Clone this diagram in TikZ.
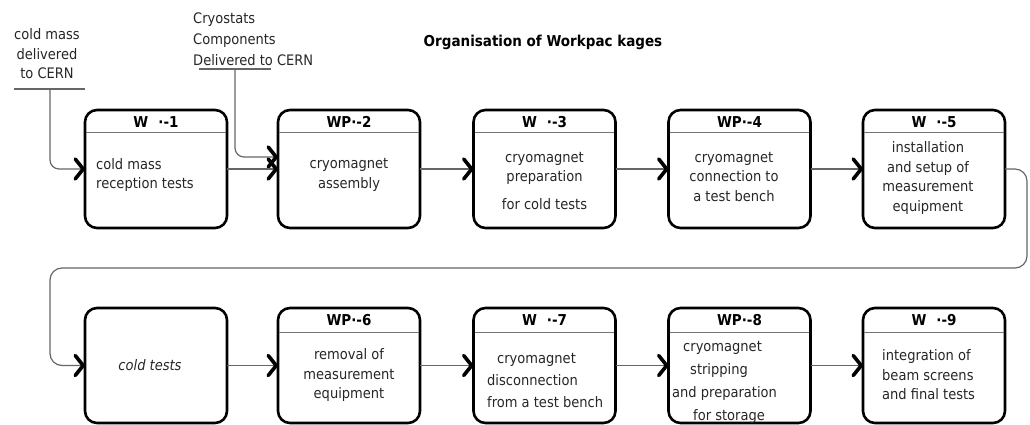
\documentclass[tikz,border=0pt]{standalone}
\usepackage{fontspec}
\setmainfont{DejaVu Sans}[FakeStretch=0.9]
\usetikzlibrary{arrows.meta}
\tikzset{
  wpbox/.style={draw=black, line width=2.6pt, rounded corners=12pt, minimum width=142pt, minimum height=118pt, inner sep=0pt, outer sep=0pt},
  wpboxlow/.style={wpbox, minimum height=115pt},
  hdrline/.style={draw=black!55, line width=1pt},
  conn/.style={draw=black!60, line width=1.2pt, -{Straight Barb[length=8pt,width=20pt,line width=3.6pt,color=black,round]}},
  plainline/.style={draw=black!60, line width=1.2pt},
  txt/.style={font=\fontsize{14.5pt}{19.5pt}\selectfont, text=black!85, inner sep=0pt},
  head/.style={font=\bfseries\fontsize{15pt}{18pt}\selectfont, text=black, inner sep=0pt},
  ttl/.style={font=\bfseries\fontsize{15pt}{18pt}\selectfont, text=black, inner sep=0pt},
}
\begin{document}
\begin{tikzpicture}[x=1pt,y=-1pt]
\useasboundingbox (0,0) rectangle (1030,425);
% title
\node[ttl] (title) at (543,42) {Organisation of Workpac kages};
% top row boxes
\node[wpbox] (b1) at (156,169) {};
\node[wpbox] (b2) at (349,169) {};
\node[wpbox] (b3) at (544.5,169) {};
\node[wpbox] (b4) at (739.5,169) {};
\node[wpbox] (b5) at (934,169) {};
% bottom row boxes
\node[wpboxlow] (bc) at (156,365.5) {};
\node[wpboxlow] (b6) at (349,365.5) {};
\node[wpboxlow] (b7) at (544.5,365.5) {};
\node[wpboxlow] (b8) at (739.5,365.5) {};
\node[wpboxlow] (b9) at (934,365.5) {};
% header lines
\foreach \b in {b1,b2,b3,b4,b5}{
  \draw[hdrline] ([xshift=1.3pt,yshift=-23pt]\b.north west) -- ([xshift=-1.3pt,yshift=-23pt]\b.north east);
}
\foreach \b in {b6,b7,b8,b9}{
  \draw[hdrline] ([xshift=1.3pt,yshift=-24pt]\b.north west) -- ([xshift=-1.3pt,yshift=-24pt]\b.north east);
}
% headers
\node[head] (h1) at (156,122) {W\hspace{10pt}·-1};
\node[head] (h2) at (349,122) {WP·-2};
\node[head] (h3) at (544.5,122) {W\hspace{10pt}·-3};
\node[head] (h4) at (739.5,122) {WP·-4};
\node[head] (h5) at (934,122) {W\hspace{10pt}·-5};
\node[head] (h6) at (349,320) {WP·-6};
\node[head] (h7) at (544.5,320) {W\hspace{10pt}·-7};
\node[head] (h8) at (739.5,320) {WP·-8};
\node[head] (h9) at (934,320) {W\hspace{10pt}·-9};
% box texts
\node[txt, anchor=west, align=left] (t1) at (96,175) {cold mass\\reception tests};
\node[txt, align=center] (t2) at (349,175) {cryomagnet\\assembly};
\node[txt, align=center] (t3) at (544.5,181) {cryomagnet\\preparation\\[8pt]for cold tests};
\node[txt, align=center] (t4) at (734,177) {cryomagnet\\connection to\\a test bench};
\node[txt, align=center] (t5) at (928,178) {installation\\and setup of\\measurement\\equipment};
\node[txt, font=\itshape\fontsize{14.5pt}{19.5pt}\selectfont] (tc) at (150,365) {cold tests};
\node[txt, align=center] (t6) at (349,375) {removal of\\measurement\\equipment};
\node[txt, anchor=west, align=left, font=\fontsize{14.5pt}{22pt}\selectfont] (t7) at (487,381) {\hspace*{10pt}cryomagnet\\disconnection\\from a test bench};
\node[txt, anchor=west, align=left, font=\fontsize{14.5pt}{23pt}\selectfont] (t8) at (672,382) {\hspace*{11pt}cryomagnet\\\hspace*{18pt}stripping\\and preparation\\\hspace*{21pt}for storage};
\node[txt, anchor=west, align=left] (t9) at (882,375) {integration of\\beam screens\\and final tests};
% inputs
\node[txt, align=center] (in1t) at (47,54) {cold mass\\delivered\\to CERN};
\coordinate (u1a) at (14,89);
\coordinate (u1b) at (85,89);
\coordinate (in1) at (50,89);
\draw[plainline] (u1a) -- (u1b);
\draw[conn, rounded corners=9pt] (in1) |- (b1.west);
\node[txt, anchor=west, align=left, font=\fontsize{14.5pt}{21pt}\selectfont] (in2t) at (193,39) {Cryostats\\Components\\Delivered to CERN};
\coordinate (u2a) at (199,69);
\coordinate (u2b) at (271,69);
\coordinate (in2) at (235,69);
\draw[plainline] (u2a) -- (u2b);
\draw[conn, rounded corners=9pt] (in2) |- ([yshift=12pt]b2.west);
% chain connectors
\draw[conn] (b1.east) -- (b2.west);
\draw[conn] (b2.east) -- (b3.west);
\draw[conn] (b3.east) -- (b4.west);
\draw[conn] (b4.east) -- (b5.west);
\coordinate (cR) at (1027,268);
\coordinate (cL) at (50,268);
\draw[conn, rounded corners=12pt] (b5.east) -| (cR) -- (cL) |- (bc.west);
\draw[conn] (bc.east) -- (b6.west);
\draw[conn] (b6.east) -- (b7.west);
\draw[conn] (b7.east) -- (b8.west);
\draw[conn] (b8.east) -- (b9.west);
\end{tikzpicture}
\end{document}
